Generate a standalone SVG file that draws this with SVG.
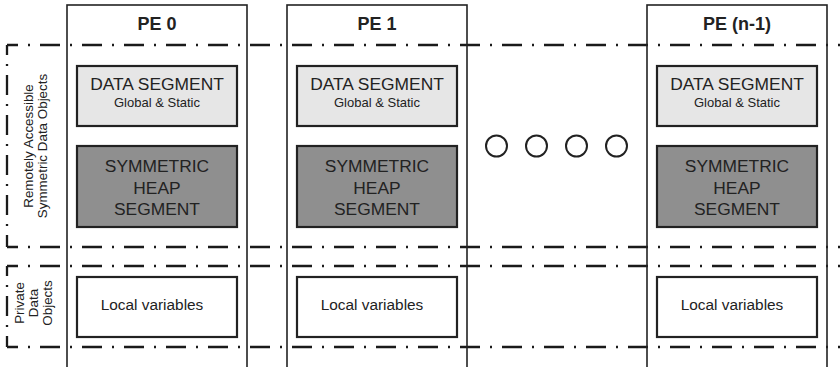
<svg xmlns="http://www.w3.org/2000/svg" width="840" height="367" viewBox="0 0 840 367">
<style>
  text { font-family: "Liberation Sans", Arial, sans-serif; fill: #222; }
  .pe { font-size: 18px; font-weight: bold; text-anchor: middle; }
  .big { font-size: 17.4px; text-anchor: middle; }
  .small { font-size: 13px; text-anchor: middle; }
  .local { font-size: 15.4px; text-anchor: middle; }
  .side { font-size: 13.4px; text-anchor: middle; }
  .col { fill: none; stroke: #222; stroke-width: 1.6; }
  .data { fill: #e6e6e6; stroke: #222; stroke-width: 2.2; }
  .heap { fill: #8f8f8f; stroke: #222; stroke-width: 2.2; }
  .loc { fill: #fff; stroke: #222; stroke-width: 2.2; }
  .hd { stroke: #1a1a1a; stroke-width: 2.3; fill: none; stroke-dasharray: 20 10 2 10; stroke-dashoffset: 9; }
  .vd { stroke: #1a1a1a; stroke-width: 2.3; fill: none; stroke-dasharray: 20 9 2 9; stroke-dashoffset: 10; }
  .dot { fill: #fff; stroke: #222; stroke-width: 2; }
</style>

<g id="connectors">
  <line class="hd" x1="7" y1="45" x2="840" y2="45"/>
  <line class="hd" x1="7" y1="247" x2="840" y2="247"/>
  <line class="hd" x1="7" y1="266" x2="840" y2="266"/>
  <line class="hd" x1="7" y1="347" x2="840" y2="347"/>
  <line class="vd" x1="7" y1="45" x2="7" y2="247"/>
  <line class="vd" x1="7" y1="266" x2="7" y2="347"/>
</g>

<g id="label-remote">
  <text class="side" transform="translate(33,146) rotate(-90)">Remotely Accessible</text>
  <text class="side" transform="translate(47,146) rotate(-90)">Symmetric Data Objects</text>
</g>
<g id="label-private">
  <text class="side" transform="translate(24,303) rotate(-90)">Private</text>
  <text class="side" transform="translate(38,303) rotate(-90)">Data</text>
  <text class="side" transform="translate(52,303) rotate(-90)">Objects</text>
</g>

<g id="pe0">
  <rect class="col" x="67" y="5" width="180" height="375"/>
  <text class="pe" x="157" y="30">PE 0</text>
  <rect class="data" x="77" y="66" width="160" height="60"/>
  <text class="big" x="157" y="90">DATA SEGMENT</text>
  <text class="small" x="157" y="107">Global &amp; Static</text>
  <rect class="heap" x="77" y="146" width="160" height="81"/>
  <text class="big" x="157" y="172">SYMMETRIC</text>
  <text class="big" x="157" y="193.5">HEAP</text>
  <text class="big" x="157" y="215">SEGMENT</text>
  <rect class="loc" x="77" y="277" width="160" height="60"/>
  <text class="local" x="152" y="310">Local variables</text>
</g>

<g id="pe1">
  <rect class="col" x="287" y="5" width="180" height="375"/>
  <text class="pe" x="377" y="30">PE 1</text>
  <rect class="data" x="297" y="66" width="160" height="60"/>
  <text class="big" x="377" y="90">DATA SEGMENT</text>
  <text class="small" x="377" y="107">Global &amp; Static</text>
  <rect class="heap" x="297" y="146" width="160" height="81"/>
  <text class="big" x="377" y="172">SYMMETRIC</text>
  <text class="big" x="377" y="193.5">HEAP</text>
  <text class="big" x="377" y="215">SEGMENT</text>
  <rect class="loc" x="297" y="277" width="160" height="60"/>
  <text class="local" x="372" y="310">Local variables</text>
</g>

<g id="ellipsis">
  <circle class="dot" cx="496.5" cy="146" r="10.5"/>
  <circle class="dot" cx="536.5" cy="146" r="10.5"/>
  <circle class="dot" cx="576.5" cy="146" r="10.5"/>
  <circle class="dot" cx="616.5" cy="146" r="10.5"/>
</g>

<g id="pe-n-1">
  <rect class="col" x="647" y="5" width="180" height="375"/>
  <text class="pe" x="737" y="30">PE (n-1)</text>
  <rect class="data" x="657" y="66" width="160" height="60"/>
  <text class="big" x="737" y="90">DATA SEGMENT</text>
  <text class="small" x="737" y="107">Global &amp; Static</text>
  <rect class="heap" x="657" y="146" width="160" height="81"/>
  <text class="big" x="737" y="172">SYMMETRIC</text>
  <text class="big" x="737" y="193.5">HEAP</text>
  <text class="big" x="737" y="215">SEGMENT</text>
  <rect class="loc" x="657" y="277" width="160" height="60"/>
  <text class="local" x="732" y="310">Local variables</text>
</g>
</svg>
